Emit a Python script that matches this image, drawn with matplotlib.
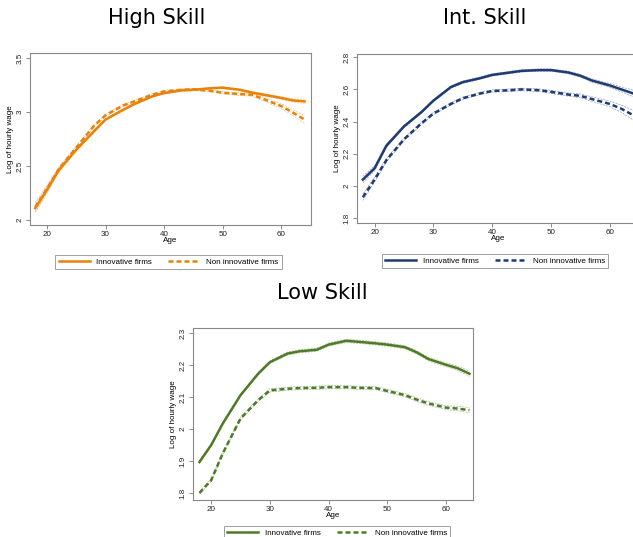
import matplotlib
matplotlib.use("Agg")
import matplotlib.pyplot as plt

ages = [18, 20, 22, 25, 28, 30, 33, 35, 38, 40, 43, 45, 48, 50, 53, 55, 57, 60, 62, 64]

high_innov = [2.11, 2.28, 2.46, 2.65, 2.82, 2.93, 3.02, 3.075, 3.145, 3.175, 3.20, 3.205,
              3.22, 3.225, 3.205, 3.18, 3.16, 3.13, 3.107, 3.098]
high_non = [2.12, 2.29, 2.47, 2.67, 2.87, 2.97, 3.06, 3.10, 3.16, 3.19, 3.205, 3.21,
            3.195, 3.178, 3.165, 3.16, 3.12, 3.055, 2.995, 2.93]
high_ci_innov = [0.04, 0.03, 0.02, 0.012, 0.01, 0.008, 0.008, 0.008, 0.008, 0.008, 0.008, 0.008,
                 0.008, 0.008, 0.008, 0.008, 0.01, 0.012, 0.015, 0.02]
high_ci_non = [0.045, 0.03, 0.02, 0.012, 0.01, 0.01, 0.01, 0.01, 0.01, 0.01, 0.01, 0.01,
               0.01, 0.01, 0.012, 0.015, 0.018, 0.022, 0.028, 0.035]

int_innov = [2.04, 2.11, 2.25, 2.37, 2.46, 2.53, 2.615, 2.645, 2.67, 2.69, 2.705, 2.715,
             2.72, 2.72, 2.705, 2.685, 2.655, 2.625, 2.60, 2.575]
int_non = [1.93, 2.04, 2.16, 2.29, 2.39, 2.45, 2.51, 2.545, 2.575, 2.59, 2.595, 2.60,
           2.595, 2.585, 2.568, 2.56, 2.54, 2.51, 2.48, 2.44]
int_ci_innov = [0.02, 0.015, 0.01, 0.008, 0.007, 0.007, 0.007, 0.007, 0.007, 0.007, 0.007, 0.007,
                0.007, 0.007, 0.008, 0.008, 0.01, 0.012, 0.015, 0.02]
int_ci_non = [0.02, 0.015, 0.01, 0.008, 0.007, 0.007, 0.007, 0.007, 0.007, 0.007, 0.008, 0.008,
              0.008, 0.009, 0.01, 0.012, 0.014, 0.018, 0.022, 0.03]

low_innov = [1.897, 1.95, 2.018, 2.106, 2.173, 2.209, 2.236, 2.243, 2.248, 2.264, 2.276, 2.273,
             2.268, 2.264, 2.256, 2.24, 2.219, 2.201, 2.19, 2.173]
low_non = [1.80, 1.84, 1.925, 2.033, 2.09, 2.121, 2.126, 2.128, 2.129, 2.131, 2.131, 2.129,
           2.128, 2.119, 2.106, 2.092, 2.08, 2.067, 2.064, 2.059]
low_ci_innov = [0.004, 0.004, 0.004, 0.004, 0.004, 0.004, 0.005, 0.005, 0.005, 0.005, 0.005, 0.005,
                0.005, 0.005, 0.005, 0.005, 0.006, 0.006, 0.007, 0.008]
low_ci_non = [0.004, 0.004, 0.004, 0.004, 0.004, 0.005, 0.005, 0.005, 0.005, 0.005, 0.005, 0.005,
              0.005, 0.005, 0.005, 0.006, 0.006, 0.006, 0.007, 0.008]

titles = ["High Skill", "Int. Skill", "Low Skill"]
labels = ["Innovative firms", "Non innovative firms"]

W, H = 633, 537
tick_font = "Liberation Sans"


def box(left, top, right, bottom):
    return [left / W, 1 - bottom / H, (right - left) / W, (bottom - top) / H]


def panel(fig, rect, innov, non, ci_i, ci_n, color, ylim, yticks, ylabels, xlim,
          legend_center, legend_top):
    ax = fig.add_axes(rect)
    lo_i = [v - c for v, c in zip(innov, ci_i)]
    hi_i = [v + c for v, c in zip(innov, ci_i)]
    lo_n = [v - c for v, c in zip(non, ci_n)]
    hi_n = [v + c for v, c in zip(non, ci_n)]
    for band in (lo_i, hi_i, lo_n, hi_n):
        ax.plot(ages, band, color=color, lw=0.5, alpha=0.5, ls=(0, (3, 1.5)))
    ax.plot(ages, innov, color=color, lw=1.8, label=labels[0])
    ax.plot(ages, non, color=color, lw=1.8, ls=(0, (2.0, 1.2)), label=labels[1])
    ax.set_xlim(*xlim)
    ax.set_ylim(*ylim)
    ax.set_xticks([20, 30, 40, 50, 60])
    ax.set_yticks(yticks)
    ax.set_yticklabels(ylabels, rotation=90, va="center")
    for lab in ax.get_xticklabels() + ax.get_yticklabels():
        lab.set_fontfamily(tick_font)
        lab.set_fontsize(5.8)
        lab.set_color("#222222")
    ax.tick_params(direction="out", length=3, width=0.6, color="#777777", pad=1.5)
    for s in ax.spines.values():
        s.set_color("#888888")
        s.set_linewidth(0.8)
    ax.set_xlabel("Age", fontsize=5.8, family=tick_font, labelpad=-1)
    ax.set_ylabel("Log of hourly wage", fontsize=5.8, family=tick_font, labelpad=2)
    leg = ax.legend(loc="upper center", ncol=2, frameon=True,
                    fancybox=False, edgecolor="#888888", handlelength=3.9,
                    columnspacing=2.0, borderpad=0.4, handletextpad=0.8,
                    bbox_to_anchor=(legend_center / W, 1 - legend_top / H),
                    bbox_transform=fig.transFigure, prop={"family": tick_font, "size": 5.8})
    leg.get_frame().set_linewidth(0.7)
    return ax


fig = plt.figure(figsize=(6.33, 5.37), dpi=100)

panel(fig, box(30, 53, 311, 225), high_innov, high_non, high_ci_innov, high_ci_non,
      "#E8820A", (1.954, 3.546), [2, 2.5, 3, 3.5], ["2", "2.5", "3", "3.5"],
      (17.1, 65.1), 168.5, 251)
panel(fig, box(357, 54, 639, 223), int_innov, int_non, int_ci_innov, int_ci_non,
      "#1F3B73", (1.77, 2.82), [1.8, 2, 2.2, 2.4, 2.6, 2.8],
      ["1.8", "2", "2.2", "2.4", "2.6", "2.8"], (17, 65), 495, 250)
panel(fig, box(193, 328, 473, 500), low_innov, low_non, low_ci_innov, low_ci_non,
      "#4F7A28", (1.778, 2.316), [1.8, 1.9, 2, 2.1, 2.2, 2.3],
      ["1.8", "1.9", "2", "2.1", "2.2", "2.3"], (16.9, 64.6), 337, 522)

fig.text(157 / W, 1 - 18 / H, titles[0], ha="center", va="center", fontsize=15)
fig.text(485 / W, 1 - 18 / H, titles[1], ha="center", va="center", fontsize=15)
fig.text(322 / W, 1 - 293 / H, titles[2], ha="center", va="center", fontsize=15)

fig.savefig("out.png", dpi=100)
